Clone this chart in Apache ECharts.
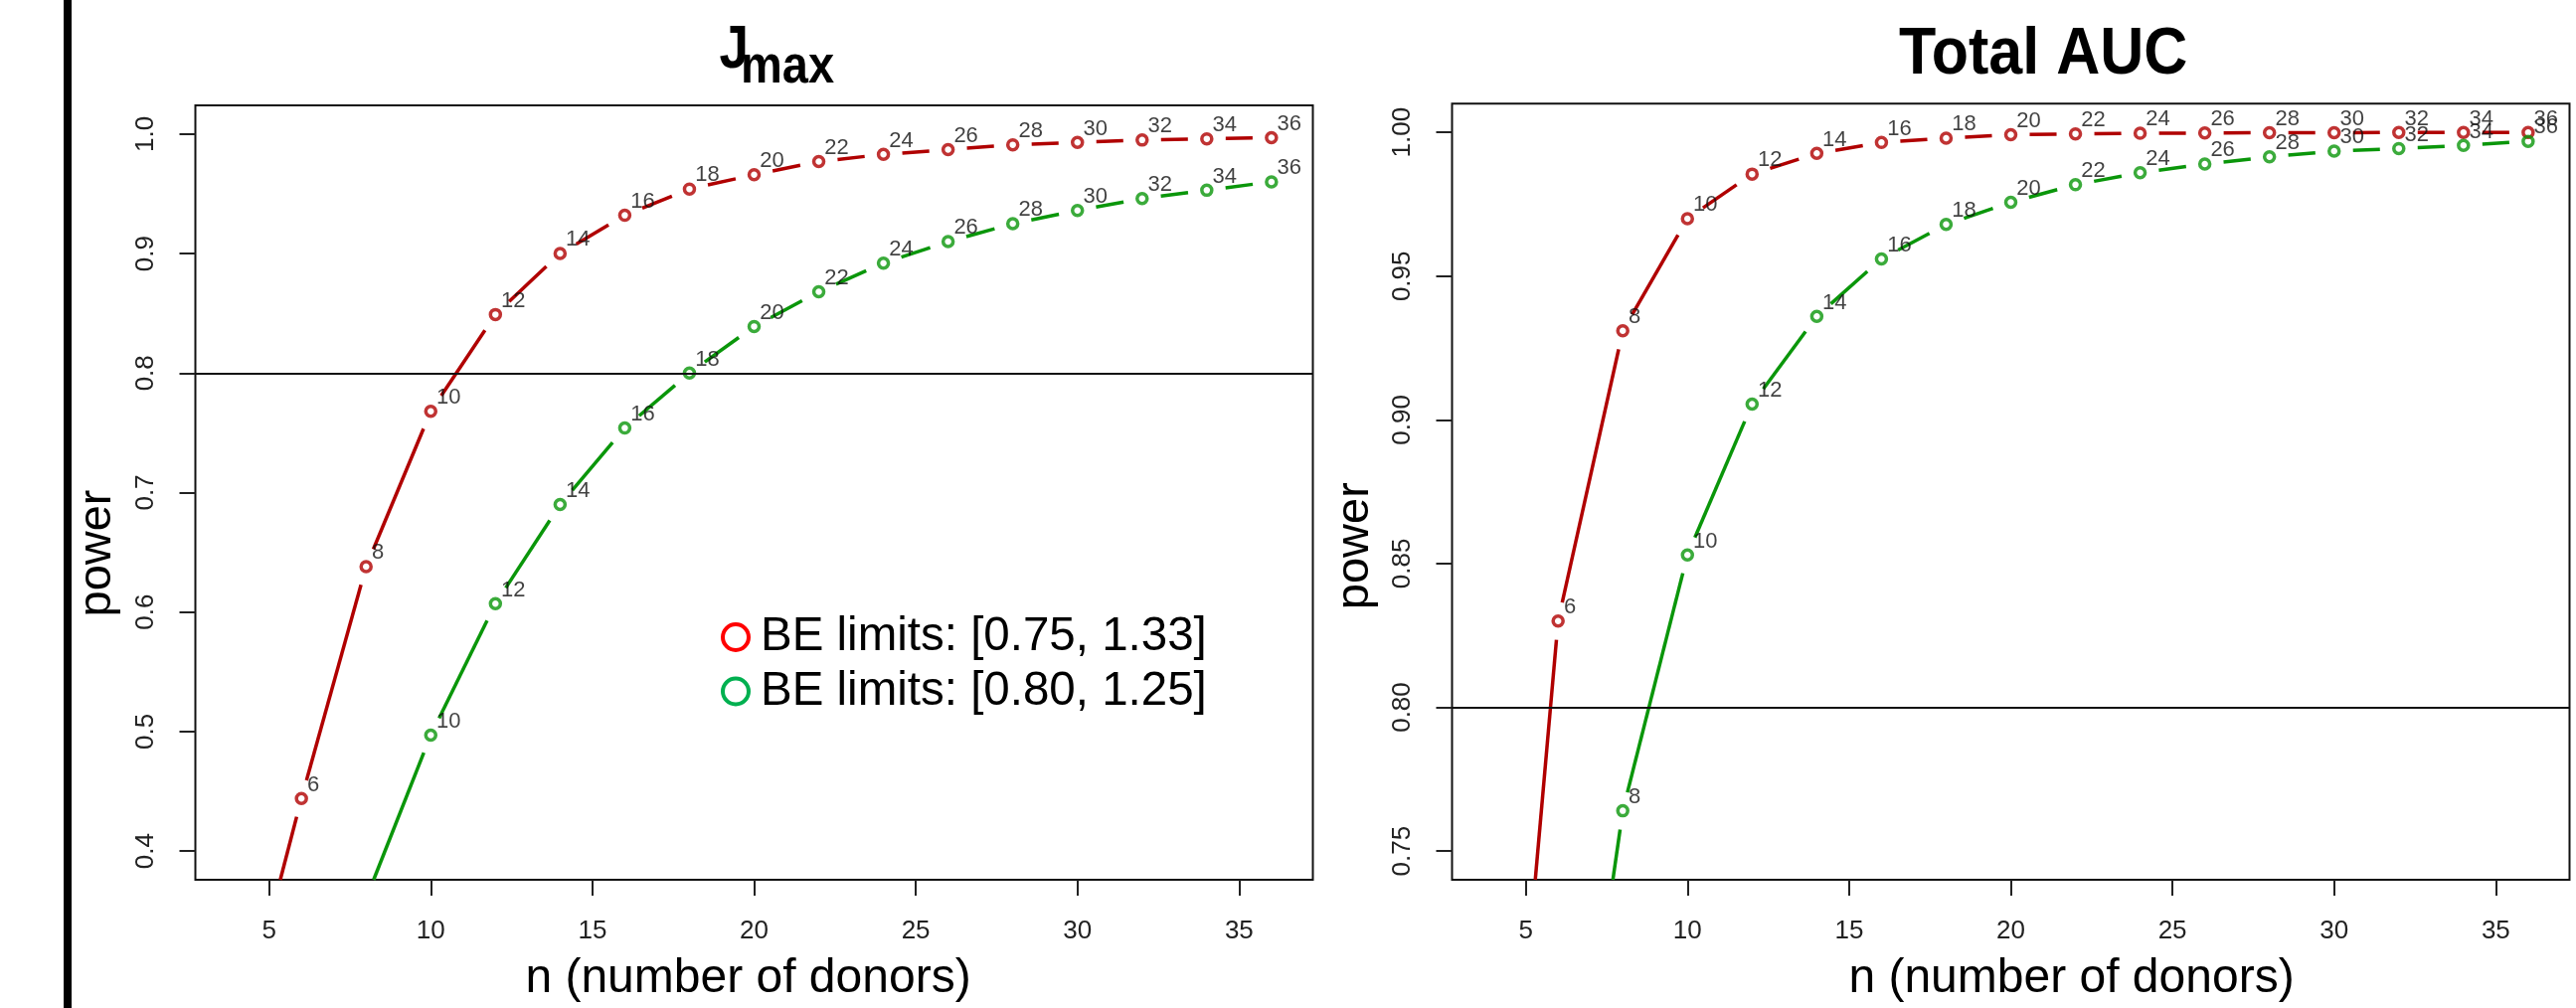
<!DOCTYPE html>
<html>
<head>
<meta charset="utf-8">
<script src="https://cdn.jsdelivr.net/npm/echarts@6.0.0/dist/echarts.min.js"></script>
<style>
  html, body { margin: 0; padding: 0; background: #fff; }
  #chart { width: 2591px; height: 1014px; }
</style>
</head>
<body>
<div id="chart"></div>
<script>
// ---------------- data ----------------
const nDonors = [4, 6, 8, 10, 12, 14, 16, 18, 20, 22, 24, 26, 28, 30, 32, 34, 36];
// Jmax panel
const jmaxWide   = [0.236, 0.444, 0.638, 0.768, 0.849, 0.900, 0.932, 0.954, 0.966, 0.977, 0.983, 0.987, 0.991, 0.993, 0.995, 0.996, 0.997];
const jmaxNarrow = [null, null, 0.360, 0.497, 0.607, 0.690, 0.754, 0.800, 0.839, 0.868, 0.892, 0.910, 0.925, 0.936, 0.946, 0.953, 0.960];
// Total AUC panel
const aucWide    = [0.575, 0.830, 0.931, 0.970, 0.9855, 0.9927, 0.9965, 0.9980, 0.9992, 0.9995, 0.9997, 0.9998, 0.9999, 0.9999, 1.0, 1.0, 1.0];
const aucNarrow  = [null, 0.607, 0.764, 0.853, 0.9055, 0.936, 0.956, 0.968, 0.9757, 0.9818, 0.986, 0.989, 0.9915, 0.9935, 0.9944, 0.9955, 0.9969];

const seriesNames = ['BE limits: [0.75, 1.33]', 'BE limits: [0.80, 1.25]'];
const panelTitles = ['J', 'max', 'Total AUC'];
const xAxisTitle = 'n (number of donors)';
const yAxisTitle = 'power';
const xTicks = [5, 10, 15, 20, 25, 30, 35];
const jmaxYTicks = [0.4, 0.5, 0.6, 0.7, 0.8, 0.9, 1.0];
const aucYTicks = [0.75, 0.80, 0.85, 0.90, 0.95, 1.00];
const refPower = 0.8;

// ---------------- style ----------------
const FONT = '"Liberation Sans", Arial, Helvetica, sans-serif';
const RED = '#b00000', GREEN = '#0a960a';
const LEG_RED = '#ff0000', LEG_GREEN = '#00b050';
const GAP = 19;

function pts(values) {
  const out = [];
  nDonors.forEach((n, i) => { if (values[i] != null) out.push([n, values[i]]); });
  return out;
}
function segs(values) {
  const p = pts(values), out = [];
  for (let i = 0; i + 1 < p.length; i++) out.push([p[i][0], p[i][1], p[i + 1][0], p[i + 1][1]]);
  return out;
}
function clipSeg(p, q, r) {
  let t0 = 0, t1 = 1;
  const dx = q[0] - p[0], dy = q[1] - p[1];
  const P = [-dx, dx, -dy, dy];
  const Q = [p[0] - r.x, r.x + r.width - p[0], p[1] - r.y, r.y + r.height - p[1]];
  for (let i = 0; i < 4; i++) {
    if (P[i] === 0) { if (Q[i] < 0) return null; continue; }
    const t = Q[i] / P[i];
    if (P[i] < 0) { if (t > t1) return null; if (t > t0) t0 = t; }
    else { if (t < t0) return null; if (t < t1) t1 = t; }
  }
  return [[p[0] + t0 * dx, p[1] + t0 * dy], [p[0] + t1 * dx, p[1] + t1 * dy]];
}
function segRenderer(color) {
  return function (params, api) {
    const a = api.coord([api.value(0), api.value(1)]);
    const b = api.coord([api.value(2), api.value(3)]);
    const dx = b[0] - a[0], dy = b[1] - a[1], L = Math.hypot(dx, dy);
    if (L <= 2 * GAP) return null;
    const ux = dx / L, uy = dy / L;
    const p = [a[0] + ux * GAP, a[1] + uy * GAP];
    const q = [b[0] - ux * GAP, b[1] - uy * GAP];
    const c = clipSeg(p, q, params.coordSys);
    if (!c) return null;
    return {
      type: 'line',
      shape: { x1: c[0][0], y1: c[0][1], x2: c[1][0], y2: c[1][1] },
      style: { stroke: color, lineWidth: 3.5 }
    };
  };
}
function segSeries(name, values, color, gi) {
  return {
    type: 'custom', name: name, xAxisIndex: gi, yAxisIndex: gi, z: 2,
    renderItem: segRenderer(color), data: segs(values),
    encode: { x: [0, 2], y: [1, 3] }, silent: true
  };
}
function pointSeries(name, values, color, gi, withRef) {
  const s = {
    type: 'scatter', name: name, xAxisIndex: gi, yAxisIndex: gi, z: 3,
    symbol: 'circle', symbolSize: 10, clip: true, silent: true,
    itemStyle: { color: 'rgba(0,0,0,0)', borderColor: color, borderWidth: 3.5 },
    label: {
      show: true, formatter: p => String(p.value[0]),
      position: [12.5, 4], align: 'left', verticalAlign: 'bottom',
      fontSize: 22, color: '#111', fontFamily: FONT
    },
    data: pts(values)
  };
  if (withRef) {
    s.markLine = {
      silent: true, symbol: 'none', animation: false,
      label: { show: false },
      lineStyle: { color: '#111', width: 2, type: 'solid' },
      data: [{ yAxis: refPower }]
    };
  }
  return s;
}

const axisTextStyle = { fontSize: 26, color: '#222', fontFamily: FONT };

function xAxisFor(gi, padding) {
  return {
    type: 'value', gridIndex: gi, min: 2.72, max: 37.28,
    axisLine: { show: false }, splitLine: { show: false },
    axisTick: { show: true, length: 16, inside: false, customValues: xTicks, lineStyle: { color: '#222', width: 2 } },
    axisLabel: Object.assign({ customValues: xTicks, margin: 39, formatter: v => String(v) }, axisTextStyle),
    name: xAxisTitle, nameLocation: 'middle', nameGap: 76,
    nameTextStyle: { fontSize: 48, color: '#000', fontFamily: FONT, padding: padding }
  };
}
function yAxisFor(gi, min, max, ticks, dec, gap, padding) {
  return {
    type: 'value', gridIndex: gi, min: min, max: max,
    axisLine: { show: false }, splitLine: { show: false },
    axisTick: { show: true, length: 16, inside: false, customValues: ticks, lineStyle: { color: '#222', width: 2 } },
    axisLabel: Object.assign({ customValues: ticks, margin: 37, rotate: 90, formatter: v => v.toFixed(dec) }, axisTextStyle),
    name: yAxisTitle, nameLocation: 'middle', nameRotate: 90, nameGap: gap,
    nameTextStyle: { fontSize: 47, color: '#000', fontFamily: FONT, padding: padding }
  };
}

const option = {
  animation: false,
  backgroundColor: '#fff',
  grid: [
    { left: 196.5, top: 106, width: 1124, height: 788, show: true, borderColor: '#111', borderWidth: 2, backgroundColor: 'rgba(0,0,0,0)' },
    { left: 1460.5, top: 104.3, width: 1124, height: 787.7, show: true, borderColor: '#111', borderWidth: 2, backgroundColor: 'rgba(0,0,0,0)' }
  ],
  xAxis: [ xAxisFor(0, [0, 12, 0, 0]), xAxisFor(1, [0, 0, 0, 122]) ],
  yAxis: [
    yAxisFor(0, 0.376, 1.024, jmaxYTicks, 1, 75, [0, 122, 0, 0]),
    yAxisFor(1, 0.74, 1.01, aucYTicks, 2, 74, [0, 109, 0, 0])
  ],
  legend: {
    orient: 'vertical', left: 725, top: 617, padding: 0,
    itemWidth: 26, itemHeight: 26, itemGap: 6.5,
    selectedMode: false,
    textStyle: { fontSize: 47.5, color: '#000', fontFamily: FONT, padding: [0, 0, 0, 7] },
    data: [
      { name: seriesNames[0], icon: 'circle', itemStyle: { color: 'rgba(0,0,0,0)', borderColor: LEG_RED, borderWidth: 4 } },
      { name: seriesNames[1], icon: 'circle', itemStyle: { color: 'rgba(0,0,0,0)', borderColor: LEG_GREEN, borderWidth: 4 } }
    ]
  },
  graphic: [
    { type: 'rect', left: 64, top: 0, shape: { width: 8, height: 1014 }, style: { fill: '#000' }, silent: true },
    { type: 'text', x: 723.5, y: 51.4, scaleY: 1.15, silent: true,
      style: { text: panelTitles[0], fontSize: 53, fontWeight: 'bold', fontFamily: FONT, fill: '#000', align: 'left', verticalAlign: 'middle' } },
    { type: 'text', x: 745, y: 68.4, scaleY: 1.15, silent: true,
      style: { text: panelTitles[1], fontSize: 47, fontWeight: 'bold', fontFamily: FONT, fill: '#000', align: 'left', verticalAlign: 'middle' } },
    { type: 'text', x: 1910, y: 55.5, scaleY: 1.1, silent: true,
      style: { text: panelTitles[2], fontSize: 61, fontWeight: 'bold', fontFamily: FONT, fill: '#000', align: 'left', verticalAlign: 'middle' } }
  ],
  series: [
    segSeries(seriesNames[0], jmaxWide, RED, 0),
    segSeries(seriesNames[1], jmaxNarrow, GREEN, 0),
    pointSeries(seriesNames[0], jmaxWide, RED, 0, true),
    pointSeries(seriesNames[1], jmaxNarrow, GREEN, 0, false),
    segSeries(seriesNames[0], aucWide, RED, 1),
    segSeries(seriesNames[1], aucNarrow, GREEN, 1),
    pointSeries(seriesNames[0], aucWide, RED, 1, true),
    pointSeries(seriesNames[1], aucNarrow, GREEN, 1, false)
  ]
};

const chart = echarts.init(document.getElementById('chart'), null, { renderer: 'canvas' });
chart.setOption(option);
</script>
</body>
</html>
